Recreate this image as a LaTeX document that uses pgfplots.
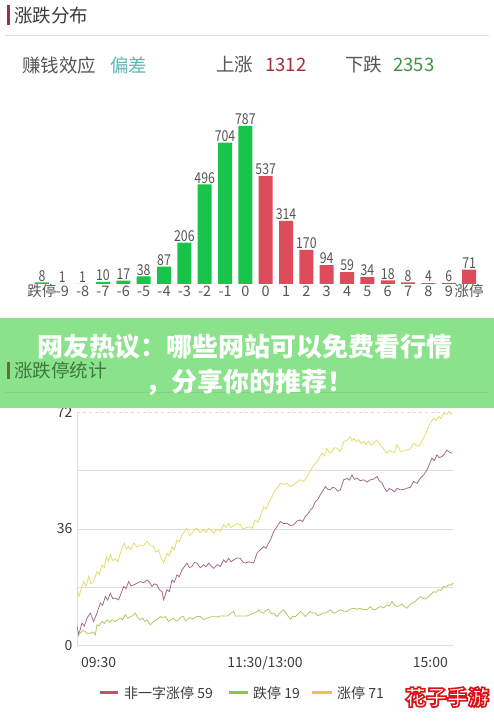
\documentclass[border=0pt]{standalone}
\usepackage{pgfplots}
\pgfplotsset{compat=1.18}
\usepackage{fontspec}
\setmainfont{Noto Sans CJK SC}
\usepackage{graphicx}
\definecolor{barG}{RGB}{24,196,74}
\definecolor{barR}{RGB}{222,76,92}
\definecolor{txt}{RGB}{60,60,60}
\definecolor{lbl}{RGB}{85,85,85}
\definecolor{teal}{RGB}{100,180,180}
\definecolor{upR}{RGB}{165,45,60}
\definecolor{dnG}{RGB}{60,150,65}
\definecolor{ban}{RGB}{138,226,138}
\definecolor{banT}{RGB}{62,120,62}
\definecolor{banB}{RGB}{100,110,60}
\definecolor{banL}{RGB}{128,210,128}
\definecolor{lnY}{RGB}{226,222,110}
\definecolor{lnP}{RGB}{165,108,138}
\definecolor{lnG}{RGB}{180,200,100}
\definecolor{lgR}{RGB}{196,82,96}
\definecolor{lgG}{RGB}{140,200,70}
\definecolor{lgY}{RGB}{235,195,70}
\definecolor{grid}{RGB}{222,222,222}
\begin{document}
\begin{tikzpicture}
\begin{scope}[x=1pt,y=1pt]
\fill[white] (0,0) rectangle (494,726);
% header
\fill[upR] (7,701) rectangle (9.5,721);
\node[anchor=west,inner sep=0,text=txt,font=\fontsize{18.5}{19}\selectfont] at (14,711) {涨跌分布};
\draw[grid,line width=0.8pt] (5,691) -- (489,691);
\begin{scope}[every node/.style={anchor=west,inner sep=0,font=\fontsize{18.5}{19}\selectfont}]
\node[text=lbl] at (22,661) {赚钱效应};
\node[text=teal] at (110,661) {偏差};
\node[text=lbl] at (216,661) {上涨};
\node[text=upR] at (265,661) {1312};
\node[text=lbl] at (345,661) {下跌};
\node[text=dnG] at (393,661) {2353};
\end{scope}
\end{scope}
% bar chart
\begin{axis}[at={(31.8pt,442pt)},anchor=south west,scale only axis,
  width=447.5pt,height=200.8pt,xmin=-0.5,xmax=21.5,ymin=0,ymax=1000,
  axis line style={draw=none},major tick length=0,ytick=\empty,
  xtick={0,...,21},
  xticklabels={跌停,-9,-8,-7,-6,-5,-4,-3,-2,-1,0,0,1,2,3,4,5,6,7,8,9,涨停},
  xticklabel style={text=lbl,inner sep=0pt,text height=10.5pt,text depth=1.5pt,yshift=-2pt,font=\fontsize{14.5}{15}\selectfont},
  ybar,bar width=14pt,
  nodes near coords={\scalebox{0.82}[1]{\pgfmathprintnumber{\pgfplotspointmeta}}},
  every node near coord/.append style={text=lbl,inner sep=1pt,text height=10.5pt,text depth=0pt,font=\fontsize{15}{15}\selectfont},
  /pgf/number format/assume math mode=true,clip=false]
\addplot[fill=barG,draw=none,bar shift=0pt] coordinates {
(0,8) (1,1) (2,1) (3,10) (4,17) (5,38) (6,87) (7,206) (8,496) (9,704) (10,787)};
\addplot[fill=barR,draw=none,bar shift=0pt] coordinates {
(11,537) (12,314) (13,170) (14,94) (15,59) (16,34) (17,18) (18,8) (19,4) (20,6) (21,71)};
\end{axis}
% line chart
\begin{axis}[at={(77pt,80.5pt)},anchor=south west,scale only axis,
  width=376pt,height=233.5pt,xmin=230,xmax=1358,ymin=0,ymax=72,
  axis line style={draw=none},major tick length=0,xtick=\empty,
  ytick={0,36,72},
  yticklabel style={text=txt,font=\fontsize{14}{14}\selectfont,xshift=-1pt},
  /pgf/number format/assume math mode=true,clip=false]
\draw[grid] (axis cs:230,18) -- (axis cs:1358,18);
\draw[grid] (axis cs:230,36) -- (axis cs:1358,36);
\draw[grid] (axis cs:230,54) -- (axis cs:1358,54);
\draw[grid,dashed] (axis cs:230,72) -- (axis cs:1358,72);
\draw[grid] (axis cs:230,0) -- (axis cs:1358,0);
\draw[grid] (axis cs:230,0) -- (axis cs:230,72);
\addplot[lnY,line width=0.8pt] coordinates {
(230,17.7) (236,15.1) (243,17.5) (250,19.7) (257,18.2) (265,21.3) (272,19.0) (280,19.7) (290,22.8) (297,22.0) (305,24.9) (312,24.0) (318,27.4) (324,26.0) (330,28.0) (337,26.2) (345,26.9) (352,25.8) (360,28.5) (372,31.6) (378,29.8) (385,30.5) (392,29.6) (400,31.6) (410,30.4) (420,31.0) (430,30.8) (440,32.1) (450,30.8) (460,30.5) (467,28.8) (475,29.5) (482,27.0) (490,25.4) (500,28.5) (507,27.6) (515,30.5) (522,29.5) (530,32.6) (537,32.0) (545,34.1) (560,36.2) (567,34.0) (575,34.6) (582,35.8) (590,36.2) (600,34.8) (610,35.7) (617,34.9) (625,36.2) (632,35.5) (640,34.6) (650,35.9) (660,35.1) (670,37.2) (677,36.4) (685,37.7) (692,36.3) (700,36.9) (710,37.6) (720,37.2) (727,36.0) (735,36.2) (745,36.6) (755,36.2) (765,38.7) (772,38.0) (780,39.8) (790,42.9) (797,42.0) (805,43.9) (815,45.9) (825,48.0) (832,48.8) (840,50.1) (850,49.6) (860,50.1) (870,49.0) (880,49.5) (890,50.4) (900,51.1) (910,50.6) (920,52.1) (935,54.7) (950,56.7) (965,59.3) (972,58.5) (980,60.8) (987,59.4) (995,59.8) (1002,61.0) (1010,60.8) (1020,59.8) (1030,62.9) (1040,63.2) (1050,64.4) (1055,63.0) (1060,63.9) (1067,62.8) (1075,63.4) (1082,62.3) (1090,62.9) (1097,62.0) (1105,62.9) (1112,61.8) (1120,62.4) (1130,63.4) (1138,62.0) (1145,61.4) (1152,60.2) (1160,59.3) (1167,60.1) (1175,59.8) (1182,59.4) (1190,61.9) (1200,59.8) (1210,60.0) (1220,60.3) (1230,60.6) (1240,62.4) (1250,61.5) (1260,61.9) (1267,63.6) (1275,65.0) (1282,66.6) (1290,68.6) (1300,70.1) (1307,69.4) (1315,70.6) (1322,70.0) (1330,71.6) (1337,71.2) (1345,72.1) (1355,71.1)};
\addplot[lnP,line width=0.8pt] coordinates {
(230,5.9) (235,3.3) (245,6.9) (252,6.0) (260,8.4) (270,10.0) (280,7.4) (290,10.0) (300,13.1) (307,12.4) (315,15.1) (322,14.0) (330,16.1) (337,14.5) (345,14.6) (355,14.1) (362,16.0) (370,18.2) (377,17.5) (385,19.7) (392,18.4) (400,18.7) (410,19.2) (420,19.7) (430,19.4) (440,20.2) (448,19.5) (455,18.2) (462,19.0) (470,18.7) (477,17.2) (485,16.6) (490,14.1) (500,17.2) (507,16.6) (515,20.2) (522,19.5) (530,21.8) (537,21.2) (545,23.3) (560,25.4) (567,24.0) (575,24.4) (582,25.6) (590,25.4) (600,24.0) (610,24.9) (617,24.3) (625,25.4) (632,24.6) (640,23.8) (650,24.9) (660,24.4) (670,26.4) (677,25.6) (685,26.9) (692,25.8) (700,26.4) (710,27.0) (720,26.9) (727,25.8) (735,25.4) (745,25.8) (760,25.4) (770,28.5) (780,29.5) (790,30.5) (797,30.0) (805,31.6) (812,33.0) (820,35.1) (830,36.7) (840,38.2) (850,37.6) (860,37.7) (870,37.0) (880,37.2) (890,38.4) (900,38.7) (907,38.2) (915,39.8) (922,40.5) (930,41.8) (937,42.4) (945,44.4) (952,45.0) (960,46.5) (967,47.6) (975,49.0) (982,48.2) (990,48.0) (997,48.8) (1005,48.5) (1012,47.6) (1020,48.0) (1030,51.1) (1040,51.5) (1048,51.0) (1055,52.6) (1062,51.2) (1070,51.6) (1080,50.8) (1090,51.1) (1100,50.4) (1110,51.1) (1120,51.3) (1130,52.1) (1137,50.8) (1145,50.1) (1152,48.6) (1160,47.5) (1167,48.4) (1175,48.0) (1182,47.4) (1190,48.5) (1200,48.0) (1210,48.1) (1220,48.5) (1230,48.8) (1240,50.6) (1250,50.0) (1260,51.6) (1270,52.6) (1280,54.2) (1287,55.8) (1295,57.8) (1302,57.0) (1310,58.8) (1317,57.9) (1325,58.3) (1332,59.0) (1340,60.3) (1347,59.6) (1355,59.3)};
\addplot[lnG,line width=0.8pt] coordinates {
(230,4.8) (240,3.8) (247,4.6) (255,4.3) (262,3.6) (270,3.8) (278,4.2) (285,3.3) (290,6.4) (297,6.1) (305,7.4) (312,6.8) (320,7.9) (327,7.2) (335,7.9) (345,7.4) (352,8.0) (360,8.4) (367,8.0) (375,9.5) (382,8.4) (390,8.9) (397,9.2) (405,10.0) (412,8.6) (420,7.9) (427,8.5) (433,7.4) (440,7.9) (450,6.4) (460,7.4) (470,8.0) (480,8.9) (487,8.6) (495,8.9) (505,7.4) (512,8.0) (520,8.4) (527,7.6) (535,7.9) (542,8.8) (550,8.9) (555,7.6) (560,7.9) (567,8.6) (575,8.2) (580,8.4) (590,9.0) (600,8.9) (610,8.0) (620,8.4) (630,8.8) (640,8.9) (650,8.8) (660,9.1) (680,9.1) (700,10.5) (705,9.1) (720,9.1) (740,9.1) (750,9.6) (760,10.0) (768,10.3) (775,11.0) (782,10.2) (790,10.0) (797,10.8) (805,11.2) (812,9.8) (820,10.0) (830,8.9) (840,10.2) (850,11.0) (860,9.5) (870,8.1) (877,9.0) (885,8.9) (892,9.6) (900,10.5) (907,9.9) (915,8.9) (922,9.8) (930,10.5) (937,10.0) (945,10.0) (952,9.2) (960,9.5) (967,10.0) (975,10.0) (982,10.4) (990,11.0) (997,10.2) (1005,10.0) (1012,10.6) (1020,11.0) (1030,10.6) (1040,10.5) (1050,11.2) (1060,11.5) (1070,11.2) (1080,11.5) (1087,11.1) (1095,11.0) (1102,11.2) (1110,12.0) (1117,11.2) (1125,11.0) (1132,11.6) (1140,12.0) (1150,11.6) (1160,12.5) (1167,12.2) (1175,13.6) (1182,12.5) (1190,12.0) (1197,12.3) (1205,12.8) (1212,12.0) (1220,11.5) (1227,12.4) (1235,13.1) (1242,13.4) (1250,14.1) (1260,15.1) (1267,14.6) (1275,14.3) (1282,14.8) (1290,15.6) (1300,16.6) (1307,16.4) (1315,17.2) (1322,17.0) (1330,18.2) (1337,18.0) (1345,18.7) (1352,18.6) (1358,19.2)};
\end{axis}
\begin{scope}[x=1pt,y=1pt]
% x labels of line chart
\begin{scope}[every node/.style={inner sep=0,text=txt,font=\fontsize{14}{14}\selectfont}]
\node[anchor=west] at (81,63) {09:30};
\node at (265,63) {11:30/13:00};
\node[anchor=east] at (448,63) {15:00};
\end{scope}
% legend
\draw[lgR,line width=3pt] (100,33) -- (118,33);
\draw[lgG,line width=3pt] (229,33) -- (248,33);
\draw[lgY,line width=3pt] (312,33) -- (332,33);
\begin{scope}[every node/.style={anchor=west,inner sep=0,text=txt,font=\fontsize{14}{14}\selectfont}]
\node at (124,33) {非一字涨停 59};
\node at (253,33) {跌停 19};
\node at (337,33) {涨停 71};
\end{scope}
% banner with the section title showing through
\fill[ban] (0,318) rectangle (494,408);
\draw[banL,line width=0.8pt] (5,334) -- (489,334);
\fill[banB] (7,347) rectangle (9.5,364);
\node[anchor=west,inner sep=0,text=banT,font=\fontsize{18.5}{19}\selectfont] at (14,356) {涨跌停统计};
\begin{scope}[every node/.style={inner sep=0,text=white,font=\fontsize{26}{26}\selectfont\bfseries}]
\node at (245,379) {网友热议：哪些网站可以免费看行情};
\node at (249,344) {，分享你的推荐！};
\end{scope}
% watermark: white letters with a red outline
\node[inner sep=0,font=\fontsize{21}{21}\selectfont\bfseries] at (447,29)
  {\color{white}\special{pdf:code 0.85 0.08 0.1 RG 2 Tr 1.6 w}花子手游\special{pdf:code 0 Tr}};
\end{scope}
\end{tikzpicture}
\end{document}
